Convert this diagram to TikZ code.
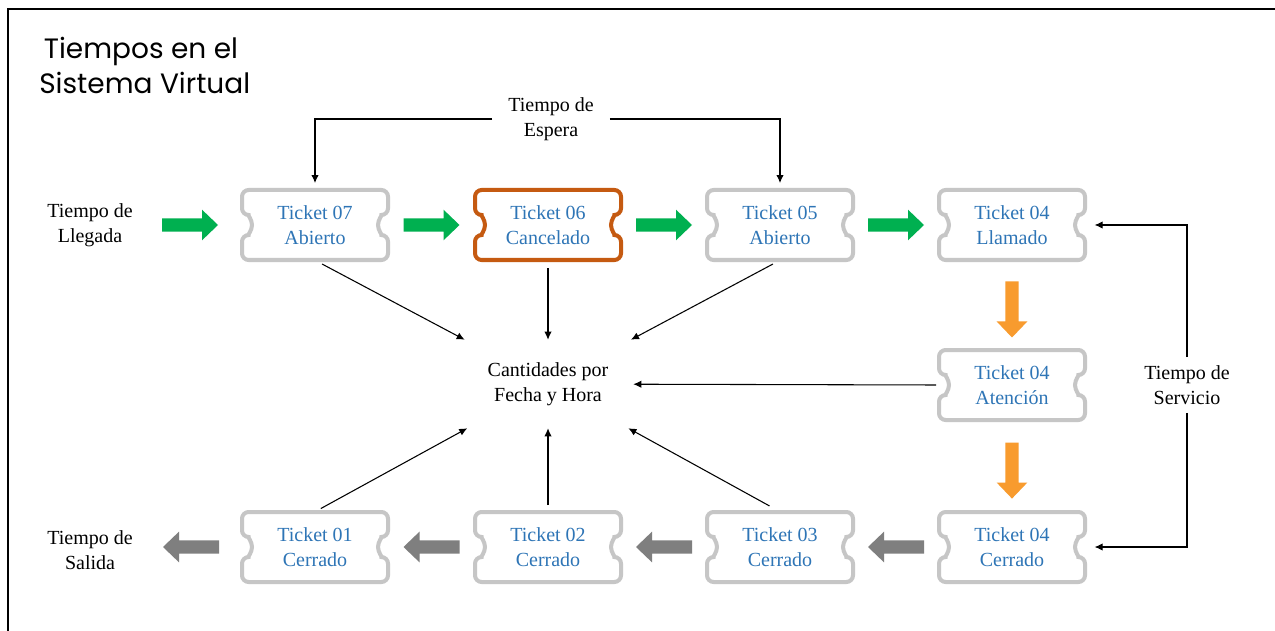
\documentclass[tikz,border=0pt]{standalone}
\usepackage{fontspec}
\setmainfont{Liberation Serif}
\newfontfamily\titlefont{Poppins}
\usetikzlibrary{arrows.meta,calc}

\definecolor{tkblue}{HTML}{2E75B6}
\definecolor{tkgray}{HTML}{C6C6C6}
\definecolor{tkorange}{HTML}{C55A11}
\definecolor{arrgreen}{HTML}{00B050}
\definecolor{arrorange}{HTML}{F89B2E}
\definecolor{arrgray}{HTML}{7F7F7F}

% ticket outline: rounded box with a round notch on each side
\newcommand\ticketoutline[2]{%
  \begin{scope}[shift={(#1.center)}]
    \draw[#2, line width=3pt, rounded corners=5pt]
      (0pt,26.25pt) -- (54.75pt,26.25pt) -- (54.75pt,7.5pt)
      arc[start angle=90, end angle=270, radius=7.5pt]
      -- (54.75pt,-26.25pt) -- (-54.75pt,-26.25pt) -- (-54.75pt,-7.5pt)
      arc[start angle=-90, end angle=90, radius=7.5pt]
      -- (-54.75pt,26.25pt) -- cycle;
  \end{scope}}

\tikzset{
  ticket/.style={minimum width=109.5pt, minimum height=52.5pt, align=center,
    text=tkblue, font=\fontsize{15pt}{18.75pt}\selectfont},
  lbl/.style={align=center, font=\fontsize{15pt}{18.75pt}\selectfont},
  link/.style={line width=0.8pt, -{Latex[length=6pt,width=5.5pt]}},
  blockarrow/.pic={\fill (-21pt,-5pt) -- (9pt,-5pt) -- (9pt,-11.5pt) -- (21pt,0pt)
    -- (9pt,11.5pt) -- (9pt,5pt) -- (-21pt,5pt) -- cycle;}
}

\begin{document}
\begin{tikzpicture}[x=0.75pt,y=-0.75pt]
\useasboundingbox (0,0) rectangle (1275,631);
\fill[white] (0,0) rectangle (1275,631);

% frame
\draw[line width=1.5pt] (8,631) -- (8,9) -- (1275,9);

% title
\node[anchor=north west, align=left, inner sep=0pt,
  font=\titlefont\fontsize{21pt}{26.5pt}\selectfont] (title) at (39,37)
  {\,Tiempos en el\\Sistema Virtual};

% tickets
\node[ticket] (t07) at (315,225) {Ticket 07\\Abierto};
\node[ticket] (t06) at (548,225) {Ticket 06\\Cancelado};
\node[ticket] (t05) at (780,225) {Ticket 05\\Abierto};
\node[ticket] (t04a) at (1012,225) {Ticket 04\\Llamado};
\node[ticket] (t04b) at (1012,385) {Ticket 04\\Atención};
\node[ticket] (t04c) at (1012,547) {Ticket 04\\Cerrado};
\node[ticket] (t03) at (780,547) {Ticket 03\\Cerrado};
\node[ticket] (t02) at (548,547) {Ticket 02\\Cerrado};
\node[ticket] (t01) at (315,547) {Ticket 01\\Cerrado};

\ticketoutline{t07}{tkgray}
\ticketoutline{t06}{tkorange}
\ticketoutline{t05}{tkgray}
\ticketoutline{t04a}{tkgray}
\ticketoutline{t04b}{tkgray}
\ticketoutline{t04c}{tkgray}
\ticketoutline{t03}{tkgray}
\ticketoutline{t02}{tkgray}
\ticketoutline{t01}{tkgray}

% labels
\node[lbl] (lleg) at (90,225) {Tiempo de\\Llegada};
\node[lbl] (sal) at (90,550) {Tiempo de\\Salida};
\node[lbl, inner xsep=12pt] (esp) at (551,119) {Tiempo de\\Espera};
\node[lbl, inner ysep=6pt] (srv) at (1187,385) {Tiempo de\\Servicio};
\node[lbl, minimum width=127.5pt, minimum height=66pt] (cnt) at (548,384)
  {Cantidades por\\Fecha y Hora};

% flow arrows
\pic[arrgreen] at (190,225) {blockarrow};
\pic[arrgreen] at ($(t07.east)!0.5!(t06.west)$) {blockarrow};
\pic[arrgreen] at ($(t06.east)!0.5!(t05.west)$) {blockarrow};
\pic[arrgreen] at ($(t05.east)!0.5!(t04a.west)$) {blockarrow};
\pic[arrorange, rotate=-90] at ($(t04a.south)!0.55!(t04b.north)$) {blockarrow};
\pic[arrorange, rotate=-90] at ($(t04b.south)!0.55!(t04c.north)$) {blockarrow};
\pic[arrgray, rotate=180] at ($(t04c.west)!0.5!(t03.east)$) {blockarrow};
\pic[arrgray, rotate=180] at ($(t03.west)!0.5!(t02.east)$) {blockarrow};
\pic[arrgray, rotate=180] at ($(t02.west)!0.5!(t01.east)$) {blockarrow};
\pic[arrgray, rotate=180] at (191,547) {blockarrow};

% waiting time
\draw[link, shorten >=5pt] (esp.west) -| (t07.north);
\draw[link, shorten >=5pt] (esp.east) -| (t05.north);

% service time
\draw[link, shorten >=7pt] (srv.north) |- (t04a.east);
\draw[link, shorten >=7pt] (srv.south) |- (t04c.east);

% counts
\draw[link, shorten <=6pt] (t07.south) -- (cnt);
\draw[link, shorten <=6pt] (t06.south) -- (cnt);
\draw[link, shorten <=6pt] (t05.south) -- (cnt);
\draw[link, shorten <=2pt] (t04b.west) -- (cnt);
\draw[link, shorten <=9pt] (t03.north) -- (cnt);
\draw[link, shorten <=5pt] (t02.north) -- (cnt);
\draw[link, shorten <=5pt] (t01.north) -- (cnt);
\end{tikzpicture}
\end{document}
